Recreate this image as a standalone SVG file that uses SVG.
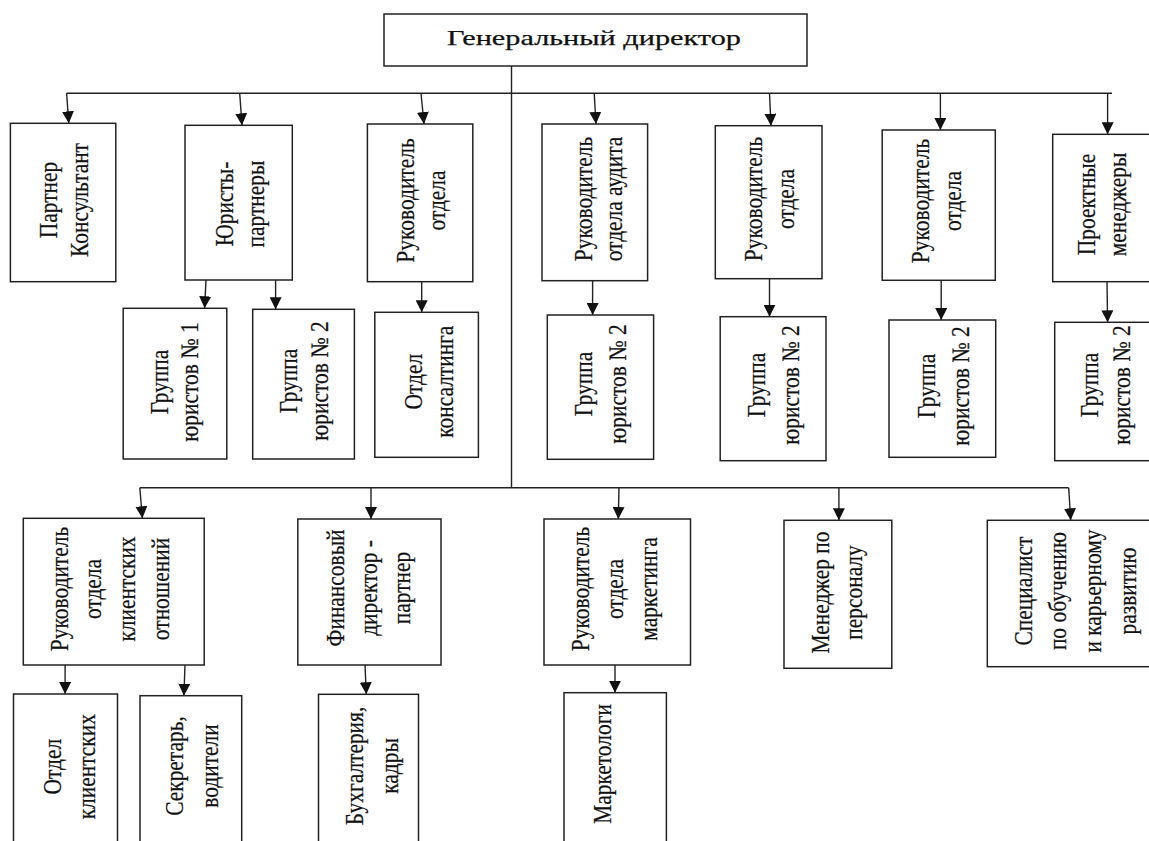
<svg xmlns="http://www.w3.org/2000/svg" width="1149" height="841" viewBox="0 0 1149 841">
<style>
.box{fill:#fff;stroke:#222;stroke-width:1.5}
.ln{fill:none;stroke:#222;stroke-width:1.4}
.ar{fill:none;stroke:#222;stroke-width:1.4;marker-end:url(#ah)}
.t{font-family:'Liberation Serif','DejaVu Serif',serif;font-size:25.5px;fill:#111;stroke:#111;stroke-width:0.25;text-anchor:middle}
.ttl{font-size:22px}
</style>
<defs>
<marker id="ah" markerUnits="userSpaceOnUse" markerWidth="12" markerHeight="12" refX="12" refY="6" orient="auto">
<path d="M0,0 L12,6 L0,12 Z" fill="#111"/>
</marker>
</defs>
<rect width="1149" height="841" fill="#fff"/>
<g id="connectors">
<line class="ln" x1="511.5" y1="66" x2="511.5" y2="487.7"/>
<line class="ln" x1="66.6" y1="93.3" x2="1112" y2="93.3"/>
<line class="ar" x1="66.6" y1="93.3" x2="68.8" y2="123.3"/>
<line class="ar" x1="239.7" y1="93.3" x2="242" y2="125.3"/>
<line class="ar" x1="421" y1="93.3" x2="424" y2="124"/>
<line class="ar" x1="594.2" y1="93.3" x2="596" y2="124"/>
<line class="ar" x1="769.5" y1="93.3" x2="771" y2="125.7"/>
<line class="ar" x1="940.4" y1="93.3" x2="940.4" y2="130"/>
<line class="ar" x1="1107.6" y1="93.3" x2="1107.6" y2="134.3"/>
<line class="ar" x1="206" y1="280" x2="204.6" y2="308.3"/>
<line class="ar" x1="275.6" y1="280" x2="275.6" y2="309.3"/>
<line class="ar" x1="421.7" y1="281.7" x2="421.7" y2="312.3"/>
<line class="ar" x1="592.6" y1="280.7" x2="592.6" y2="315"/>
<line class="ar" x1="769.5" y1="278.7" x2="769.5" y2="316.7"/>
<line class="ar" x1="941.2" y1="280.3" x2="941.2" y2="320"/>
<line class="ar" x1="1107" y1="281.7" x2="1107.6" y2="322.3"/>
<line class="ln" x1="139.8" y1="487.7" x2="1068.7" y2="487.7"/>
<line class="ar" x1="139.8" y1="487.7" x2="142.4" y2="518.3"/>
<line class="ar" x1="371" y1="487.7" x2="371" y2="519"/>
<line class="ar" x1="619" y1="487.7" x2="618.3" y2="519"/>
<line class="ar" x1="838.9" y1="487.7" x2="838.9" y2="520.3"/>
<line class="ar" x1="1068.7" y1="487.7" x2="1070.7" y2="520.3"/>
<line class="ar" x1="65.1" y1="665" x2="65.1" y2="694"/>
<line class="ar" x1="185" y1="665" x2="183.9" y2="695.7"/>
<line class="ar" x1="365" y1="665" x2="366.3" y2="694.3"/>
<line class="ar" x1="615" y1="665" x2="615" y2="692.7"/>
</g>
<g id="n-gd">
<rect class="box" x="384" y="14" width="423" height="52"/>
<text class="t ttl" font-family="Liberation Serif, DejaVu Serif, serif" x="594" y="44.5" textLength="294" lengthAdjust="spacingAndGlyphs">Генеральный директор</text>
</g>
<g class="t" font-family="Liberation Serif, DejaVu Serif, serif">
<g id="n-partner">
<rect class="box" x="10.4" y="123.3" width="105.4" height="158.4"/>
<g transform="translate(0,200) rotate(-90) scale(0.84,1)"><text y="56.7">Партнер</text><text y="88.3">Консультант</text></g>
</g>
<g id="n-yurist">
<rect class="box" x="185" y="125.3" width="107.3" height="154.7"/>
<g transform="translate(0,204) rotate(-90) scale(0.84,1)"><text y="233">Юристы-</text><text y="264.5">партнеры</text></g>
</g>
<g id="n-ruk1">
<rect class="box" x="367.4" y="124" width="105.4" height="157.7"/>
<g transform="translate(0,200.5) rotate(-90) scale(0.84,1)"><text y="414">Руководитель</text><text y="445">отдела</text></g>
</g>
<g id="n-audit">
<rect class="box" x="542" y="124" width="105.6" height="156.7"/>
<g transform="translate(0,199) rotate(-90) scale(0.84,1)"><text y="592">Руководитель</text><text y="622">отдела аудита</text></g>
</g>
<g id="n-ruk2">
<rect class="box" x="715.3" y="125.7" width="106.7" height="153"/>
<g transform="translate(0,199) rotate(-90) scale(0.84,1)"><text y="762">Руководитель</text><text y="794">отдела</text></g>
</g>
<g id="n-ruk3">
<rect class="box" x="882.2" y="130" width="113.1" height="150.3"/>
<g transform="translate(0,201) rotate(-90) scale(0.84,1)"><text y="929">Руководитель</text><text y="961">отдела</text></g>
</g>
<g id="n-pm">
<rect class="box" x="1052.7" y="134.3" width="110" height="147.4"/>
<g transform="translate(0,204.5) rotate(-90) scale(0.84,1)"><text y="1095">Проектные</text><text y="1126">менеджеры</text></g>
</g>
<g id="n-g1">
<rect class="box" x="123.2" y="308.3" width="103.6" height="150.7"/>
<g transform="translate(0,382) rotate(-90) scale(0.84,1)"><text y="168.3">Группа</text><text y="198.3">юристов № 1</text></g>
</g>
<g id="n-g2">
<rect class="box" x="252.7" y="309.3" width="101.7" height="149.7"/>
<g transform="translate(0,381) rotate(-90) scale(0.84,1)"><text y="296.7">Группа</text><text y="328">юристов № 2</text></g>
</g>
<g id="n-cons">
<rect class="box" x="374.8" y="312.3" width="103.6" height="145"/>
<g transform="translate(0,381.7) rotate(-90) scale(0.84,1)"><text y="421.8">Отдел</text><text y="453">консалтинга</text></g>
</g>
<g id="n-g3">
<rect class="box" x="547.3" y="315" width="106.3" height="144.3"/>
<g transform="translate(0,384) rotate(-90) scale(0.84,1)"><text y="592">Группа</text><text y="626">юристов № 2</text></g>
</g>
<g id="n-g4">
<rect class="box" x="720.2" y="316.7" width="105.8" height="144"/>
<g transform="translate(0,385) rotate(-90) scale(0.84,1)"><text y="765">Группа</text><text y="799">юристов № 2</text></g>
</g>
<g id="n-g5">
<rect class="box" x="889" y="320" width="106.7" height="137.3"/>
<g transform="translate(0,386) rotate(-90) scale(0.84,1)"><text y="935">Группа</text><text y="969">юристов № 2</text></g>
</g>
<g id="n-g6">
<rect class="box" x="1054.7" y="322.3" width="100" height="138.4"/>
<g transform="translate(0,385) rotate(-90) scale(0.84,1)"><text y="1098">Группа</text><text y="1130">юристов № 2</text></g>
</g>
<g id="n-client">
<rect class="box" x="23.3" y="518.3" width="180.9" height="146.7"/>
<g transform="translate(0,589) rotate(-90) scale(0.84,1)"><text y="68.5">Руководитель</text><text y="101">отдела</text><text y="135">клиентских</text><text y="169">отношений</text></g>
</g>
<g id="n-fin">
<rect class="box" x="297.8" y="519" width="143.2" height="146"/>
<g transform="translate(0,588) rotate(-90) scale(0.84,1)"><text y="344">Финансовый</text><text y="377">директор -</text><text y="410">партнер</text></g>
</g>
<g id="n-mark">
<rect class="box" x="544" y="519" width="146.5" height="146"/>
<g transform="translate(0,589) rotate(-90) scale(0.84,1)"><text y="589">Руководитель</text><text y="623">отдела</text><text y="657">маркетинга</text></g>
</g>
<g id="n-hr">
<rect class="box" x="784" y="520.3" width="107.8" height="148"/>
<g transform="translate(0,592.5) rotate(-90) scale(0.84,1)"><text y="829.5">Менеджер по</text><text y="862">персоналу</text></g>
</g>
<g id="n-train">
<rect class="box" x="987.3" y="520.3" width="170" height="146.4"/>
<g transform="translate(0,591) rotate(-90) scale(0.84,1)"><text y="1032.5">Специалист</text><text y="1066.5">по обучению</text><text y="1101">и карьерному</text><text y="1136">развитию</text></g>
</g>
<g id="n-otd">
<rect class="box" x="13.5" y="694" width="104" height="160"/>
<g transform="translate(0,766.7) rotate(-90) scale(0.84,1)"><text y="61.5">Отдел</text><text y="94.6">клиентских</text></g>
</g>
<g id="n-sec">
<rect class="box" x="140" y="695.7" width="101.7" height="160"/>
<g transform="translate(0,766) rotate(-90) scale(0.84,1)"><text y="183.2">Секретарь,</text><text y="218">водители</text></g>
</g>
<g id="n-buh">
<rect class="box" x="318.5" y="694.3" width="100" height="160"/>
<g transform="translate(0,766) rotate(-90) scale(0.84,1)"><text y="363.2">Бухгалтерия,</text><text y="398">кадры</text></g>
</g>
<g id="n-mkt">
<rect class="box" x="564" y="692.7" width="102.4" height="160"/>
<g transform="translate(0,764) rotate(-90) scale(0.84,1)"><text y="610.7">Маркетологи</text></g>
</g>
</g>
</svg>
